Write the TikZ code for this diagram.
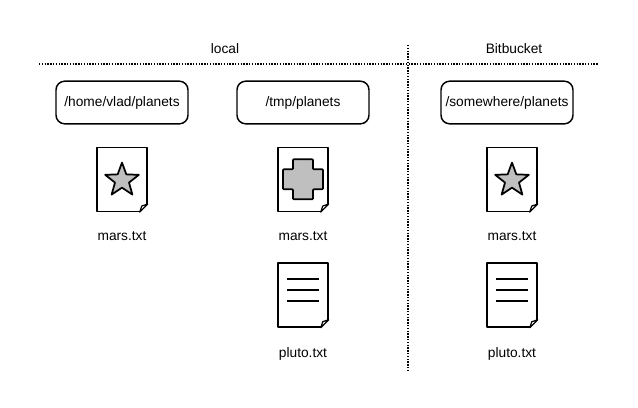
\documentclass[tikz,border=0pt]{standalone}
\usepackage{fontspec}
\setmainfont{Liberation Sans}
\usepackage{tikz}
\usetikzlibrary{positioning,shapes.geometric}

\newcommand{\foldcorner}[1]{
  \fill[white] ([shift={(-8.5,0.9)}]#1.south east) -- ([shift={(0.9,-8.5)}]#1.south east) -- ([shift={(0.9,0.9)}]#1.south east) -- cycle;
  \draw[line, line width=0.9pt] ([shift={(-8,0)}]#1.south east) -- ([shift={(0,-8)}]#1.south east) -- ([shift={(-6,-6)}]#1.south east) -- cycle;
}

\begin{document}
\begin{tikzpicture}[
  x=0.75pt, y=-0.75pt,
  node distance=16.5pt,
  line/.style={draw=black, line width=1.1pt, line join=round},
  dirbox/.style={rectangle, rounded corners=6.5pt, draw=black, line width=1.1pt, minimum width=99pt, minimum height=32pt, inner sep=0pt, font=\fontsize{10.3}{12}\selectfont},
  filebox/.style={rectangle, draw=black, fill=white, line width=1.1pt, line join=round, minimum width=37.5pt, minimum height=48pt, inner sep=0pt},
  filename/.style={inner sep=0pt, font=\fontsize{10.3}{12}\selectfont},
  header/.style={inner sep=0pt, font=\fontsize{10.3}{12}\selectfont},
  divider/.style={draw=black, line width=1.2pt, dash pattern=on 1.1pt off 1pt},
  shapefill/.style={draw=black, fill=black!25, line width=1.3pt, line join=round}
  ]
  \useasboundingbox (0,0) rectangle (638,407);

  % headers and dividers
  \node[header] (local) at (225,49) {local};
  \node[header] (bit) at (514,49) {Bitbucket};
  \coordinate (hl) at (39,64);
  \coordinate (hr) at (598,64);
  \coordinate (vt) at (408,45);
  \coordinate (vb) at (408,372);
  \draw[divider] (hl) -- (hr);
  \draw[divider] (vt) -- (vb);

  % directories
  \node[dirbox] (home) at (122,102.5) {/home/vlad/planets};
  \node[dirbox] (tmp) at (303,102.5) {/tmp/planets};
  \node[dirbox] (some) at (507,102.5) {/somewhere/planets};

  % files
  \node[filebox, below=of home] (f1) {};
  \node[filebox, below=of tmp] (f2) {};
  \node[filebox, below=of some, xshift=3.75pt] (f3) {};
  \node[filename, below=14.5pt of f1] (n1) {mars.txt};
  \node[filename, below=14.5pt of f2] (n2) {mars.txt};
  \node[filename, below=14.5pt of f3] (n3) {mars.txt};
  \node[filebox, below=16pt of n2] (f4) {};
  \node[filebox, below=16pt of n3] (f5) {};
  \node[filename, below=14.5pt of f4] (n4) {pluto.txt};
  \node[filename, below=14.5pt of f5] (n5) {pluto.txt};

  \foreach \f in {f1,f2,f3,f4,f5}
    \foldcorner{\f};

  % contents
  \foreach \f in {f1,f3}
    \node[star, star points=5, star point ratio=2.4, shapefill, minimum size=26.5pt, inner sep=0pt, anchor=center] at ([yshift=-0.75pt]\f) {};
  \draw[shapefill, rounded corners=0.6pt] ([shift={(-10,-20)}]f2.center) -- ++(20,0) -- ++(0,10) -- ++(10,0) -- ++(0,20) -- ++(-10,0) -- ++(0,10) -- ++(-20,0) -- ++(0,-10) -- ++(-10,0) -- ++(0,-20) -- ++(10,0) -- cycle;
  \foreach \f in {f4,f5}
    \foreach \d in {-16,-5,6}
      \draw[line] ([shift={(-16,\d)}]\f.center) -- ++(32,0);
\end{tikzpicture}
\end{document}
